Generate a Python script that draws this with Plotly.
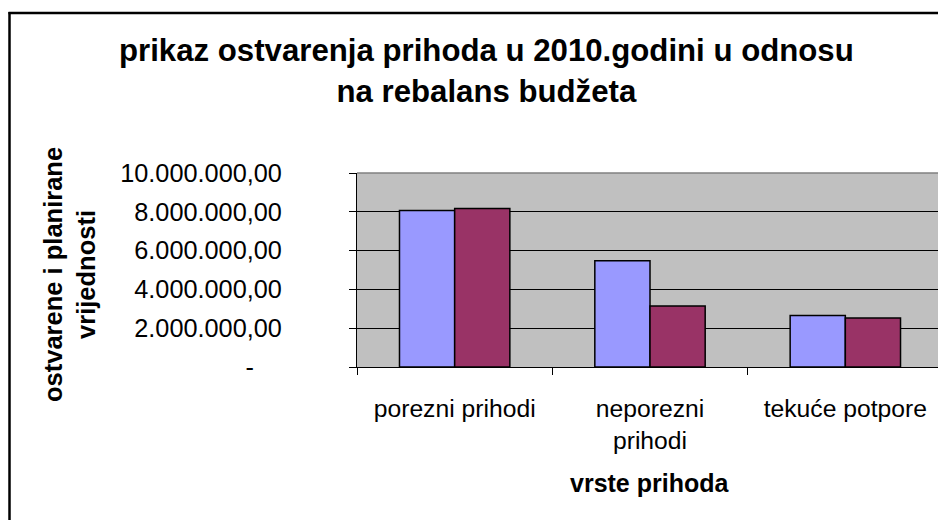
import plotly.graph_objects as go

categories = ["porezni prihodi", "neporezni<br>prihodi", "tekuće potpore"]
ostvareno = [8070000, 5480000, 2660000]
planirano = [8170000, 3140000, 2530000]
y_tickvals = [0, 2000000, 4000000, 6000000, 8000000, 10000000]
y_ticktext = ["-" + "\u00a0" * 4, "2.000.000,00", "4.000.000,00", "6.000.000,00",
              "8.000.000,00", "10.000.000,00"]
title_text = "prikaz ostvarenja prihoda u 2010.godini u odnosu<br>na rebalans budžeta"
x_title = "vrste prihoda"
y_title = "ostvarene i planirane<br>vrijednosti"

# page body has an 8px default margin; work in page pixels and shift
O = 8
PW, PH = 946, 520
W, H = PW - O, PH - O
L, R, T, B = 357, 943, 173, 367  # plot area in page pixels
FONT = "Liberation Sans, Arial, sans-serif"


def px(x):
    return (x - L) / (R - L)


def py(y):
    return (B - y) / (B - T)


fig = go.Figure()
fig.add_trace(go.Bar(x=categories, y=ostvareno, name="ostvareno",
                     marker=dict(color="#9999FF", line=dict(color="black", width=1.5))))
fig.add_trace(go.Bar(x=categories, y=planirano, name="planirano",
                     marker=dict(color="#993366", line=dict(color="black", width=1.5))))

fig.update_layout(
    width=W, height=H,
    margin=dict(l=L - O, r=PW - R, t=T - O, b=PH - B, pad=0),
    paper_bgcolor="white",
    plot_bgcolor="#C0C0C0",
    showlegend=False,
    barmode="group",
    bargap=0.435,
    bargroupgap=0,
    font=dict(family=FONT, color="black", size=24),
    xaxis=dict(
        type="category",
        showline=True, linecolor="black", linewidth=1,
        ticks="outside", tickson="boundaries", ticklen=7, tickcolor="black",
        showgrid=False,
        tickfont=dict(size=24.7, family=FONT, color="black"),
        ticklabelstandoff=19,
    ),
    yaxis=dict(
        range=[0, 10000000],
        tickvals=y_tickvals, ticktext=y_ticktext,
        showline=True, linecolor="black", linewidth=1,
        ticks="outside", ticklen=7, tickcolor="black",
        showgrid=True, gridcolor="black", gridwidth=1,
        zeroline=False,
        tickfont=dict(size=25.3, family=FONT, color="black"),
        ticklabelstandoff=62,
    ),
    shapes=[
        dict(type="line", xref="paper", yref="paper", x0=0, x1=1, y0=1, y1=1,
             line=dict(color="#808080", width=1.5), layer="above"),
        dict(type="line", xref="paper", yref="paper", x0=1, x1=1, y0=0, y1=1,
             line=dict(color="#808080", width=1.5), layer="above"),
        dict(type="line", xref="paper", yref="paper", x0=px(9.5), x1=px(9.5), y0=py(12), y1=py(PH + 5),
             line=dict(color="black", width=2.5), layer="above"),
        dict(type="line", xref="paper", yref="paper", x0=px(8.5), x1=px(PW + 5), y0=py(13), y1=py(13),
             line=dict(color="black", width=2.5), layer="above"),
    ],
    annotations=[
        dict(text=title_text, xref="paper", yref="paper", x=px(486), y=py(71),
             xanchor="center", yanchor="middle", showarrow=False,
             font=dict(size=31.2, family=FONT, color="black", weight="bold")),
        dict(text=x_title, xref="paper", yref="paper", x=px(649), y=py(483),
             xanchor="center", yanchor="middle", showarrow=False,
             font=dict(size=25, family=FONT, color="black", weight="bold")),
        dict(text=y_title, xref="paper", yref="paper", x=px(69), y=py(275),
             xanchor="center", yanchor="middle", showarrow=False, textangle=-90,
             font=dict(size=25.5, family=FONT, color="black", weight="bold")),
    ],
)

fig.write_html("out.html")
